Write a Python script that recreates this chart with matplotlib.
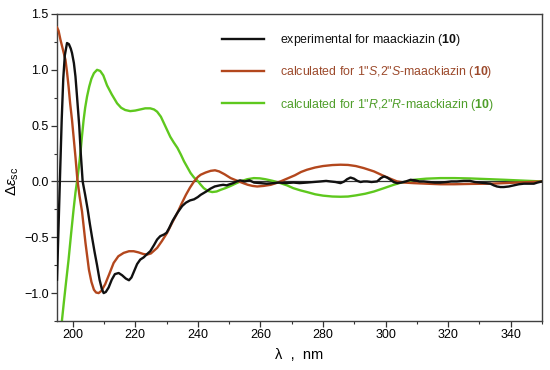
import matplotlib
matplotlib.use("Agg")
from matplotlib import pyplot as plt
from matplotlib.ticker import MultipleLocator

plt.rcParams['font.family'] = ['Liberation Sans', 'DejaVu Sans']
plt.rcParams['mathtext.fontset'] = 'custom'
plt.rcParams['mathtext.rm'] = 'Liberation Sans'
plt.rcParams['mathtext.it'] = 'Liberation Sans:italic'
plt.rcParams['mathtext.bf'] = 'Liberation Sans:bold'
plt.rcParams['axes.unicode_minus'] = True

# experimental CD spectrum
exp_wl = [195.0, 195.5, 196.0, 196.5, 197.0, 197.5, 198.2, 198.8, 199.4, 199.8,
          200.4, 200.9, 201.4, 202.1, 202.6, 203.2, 204.0, 204.8, 205.5, 206.2,
          207.0, 207.8, 208.6, 209.3, 209.9, 210.6, 211.5, 212.5, 213.5, 214.7,
          215.8, 217.0, 218.0, 218.8, 219.7, 220.6, 221.6, 222.7, 223.8, 224.8,
          226.0, 227.0, 228.0, 229.2, 230.0, 230.8, 232.0, 233.5, 235.0, 236.2,
          237.5, 238.8, 240.0, 240.9, 242.7, 244.0, 245.4, 247.0, 248.1, 249.2,
          250.2, 251.3, 252.4, 253.5, 255.0, 256.5, 258.0, 260.0, 262.0, 264.0,
          266.0, 268.0, 270.6, 272.5, 274.9, 277.0, 279.2, 281.0, 282.4, 284.0,
          285.6, 286.8, 287.7, 288.8, 289.9, 291.0, 292.0, 293.0, 294.1, 295.5,
          297.3, 298.5, 299.5, 300.5, 301.6, 302.6, 303.7, 305.0, 306.5, 308.0,
          309.5, 310.8, 312.2, 314.0, 315.8, 317.5, 319.5, 321.0, 322.8, 325.0,
          327.0, 328.5, 330.2, 332.0, 333.5, 334.6, 335.6, 336.7, 337.8, 339.4,
          341.0, 342.6, 344.2, 345.8, 347.4, 348.5, 350.0]
exp_de = [-0.88, -0.40, 0.08, 0.55, 0.92, 1.13, 1.24, 1.23, 1.19, 1.15,
          1.06, 0.94, 0.76, 0.50, 0.25, 0.0, -0.12, -0.25, -0.38, -0.50,
          -0.63, -0.75, -0.88, -0.96, -1.0, -0.99, -0.95, -0.88, -0.83, -0.82,
          -0.84, -0.87, -0.885, -0.86, -0.80, -0.74, -0.70, -0.68, -0.65, -0.625,
          -0.57, -0.52, -0.49, -0.475, -0.46, -0.42, -0.35, -0.28, -0.22, -0.19,
          -0.17, -0.16, -0.14, -0.12, -0.09, -0.065, -0.045, -0.035, -0.03, -0.035,
          -0.025, -0.015, 0.0, 0.01, 0.0, 0.01, -0.01, -0.015, -0.02, -0.015,
          -0.01, -0.015, -0.01, -0.015, -0.01, -0.005, 0.0, 0.005, 0.0, -0.005,
          -0.015, 0.0, 0.02, 0.035, 0.025, 0.005, -0.005, 0.0, 0.0, -0.005,
          0.0, 0.03, 0.045, 0.035, 0.015, -0.005, -0.015, -0.01, 0.0, 0.015,
          0.01, 0.0, 0.0, -0.005, -0.01, -0.01, -0.005, 0.0, 0.0, 0.005,
          0.005, -0.005, -0.01, -0.015, -0.02, -0.035, -0.045, -0.05, -0.05, -0.045,
          -0.035, -0.025, -0.02, -0.02, -0.02, -0.01, 0.0]

# calculated for 1"S,2"S
ss_wl = [195.0, 195.5, 196.1, 196.9, 197.7, 198.2, 198.7, 199.2, 199.8, 200.3,
         200.9, 201.5, 202.2, 203.0, 204.1, 205.2, 206.0, 206.8, 207.5, 208.3,
         209.2, 210.4, 211.7, 213.1, 214.6, 216.3, 218.0, 219.5, 221.0, 222.6,
         223.8, 225.0, 226.0, 227.0, 228.5, 230.2, 231.8, 233.5, 234.8, 236.2,
         237.5, 238.8, 240.0, 240.9, 242.5, 244.1, 245.5, 246.8, 248.5, 250.5,
         251.8, 253.1, 254.5, 256.0, 257.5, 259.0, 261.0, 263.3, 265.0, 266.4,
         268.5, 271.0, 273.0, 274.9, 277.5, 280.0, 283.0, 285.6, 288.0, 290.5,
         293.0, 296.3, 299.0, 301.5, 303.7, 306.0, 309.0, 313.0, 317.5, 322.0,
         327.0, 333.5, 338.0, 342.0, 346.0, 350.0]
ss_de = [1.38, 1.35, 1.27, 1.18, 1.09, 0.98, 0.85, 0.70, 0.55, 0.40,
         0.22, 0.02, -0.13, -0.27, -0.55, -0.79, -0.90, -0.97, -0.995, -1.0,
         -0.98, -0.92, -0.83, -0.73, -0.67, -0.64, -0.625, -0.625, -0.635, -0.65,
         -0.655, -0.645, -0.62, -0.595, -0.535, -0.46, -0.37, -0.28, -0.20, -0.12,
         -0.055, 0.0, 0.04, 0.06, 0.08, 0.095, 0.10, 0.09, 0.065, 0.03,
         0.015, 0.0, -0.015, -0.03, -0.04, -0.045, -0.04, -0.03, -0.015, 0.0,
         0.025, 0.055, 0.085, 0.105, 0.125, 0.138, 0.147, 0.15, 0.148, 0.138,
         0.12, 0.09, 0.055, 0.025, 0.0, -0.01, -0.015, -0.02, -0.025, -0.025,
         -0.022, -0.02, -0.015, -0.01, -0.005, 0.0]

# calculated for 1"R,2"R
rr_wl = [196.4, 196.6, 197.2, 197.9, 198.7, 199.5, 200.3, 200.9, 201.4, 202.0,
         202.5, 203.0, 203.5, 204.0, 204.6, 205.3, 206.0, 206.8, 207.8, 208.8,
         209.8, 211.0, 212.5, 214.2, 215.5, 216.8, 218.4, 220.0, 221.6, 223.2,
         224.8, 226.0, 227.0, 228.2, 229.2, 230.2, 231.2, 232.3, 233.5, 234.6,
         235.6, 236.7, 237.7, 238.8, 239.8, 240.8, 241.9, 243.2, 244.6, 246.0,
         247.3, 248.8, 250.5, 252.0, 253.6, 255.8, 257.9, 259.8, 261.6, 264.0,
         266.4, 268.5, 270.5, 272.8, 274.9, 277.5, 280.0, 283.0, 285.6, 288.0,
         290.5, 293.5, 296.3, 299.5, 302.6, 305.0, 307.0, 309.1, 313.0, 317.5,
         322.0, 327.0, 333.5, 338.0, 342.0, 346.0, 350.0]
rr_de = [-1.32, -1.24, -1.08, -0.90, -0.70, -0.47, -0.25, -0.10, 0.0, 0.13,
         0.26, 0.41, 0.55, 0.66, 0.76, 0.85, 0.92, 0.97, 1.0, 0.99,
         0.95, 0.86, 0.78, 0.70, 0.66, 0.64, 0.63, 0.635, 0.645, 0.655,
         0.655, 0.645, 0.625, 0.58, 0.52, 0.46, 0.40, 0.35, 0.30, 0.24,
         0.18, 0.125, 0.075, 0.035, 0.01, -0.025, -0.06, -0.085, -0.095, -0.09,
         -0.075, -0.06, -0.04, -0.02, 0.0, 0.02, 0.03, 0.028, 0.02, 0.005,
         -0.015, -0.035, -0.06, -0.08, -0.095, -0.115, -0.127, -0.135, -0.137, -0.135,
         -0.125, -0.11, -0.09, -0.06, -0.03, -0.01, 0.0, 0.015, 0.025, 0.03,
         0.03, 0.027, 0.02, 0.015, 0.01, 0.005, 0.0]

labels = ['experimental for maackiazin ($\\bf{10}$)',
          'calculated for 1"$\\it{S}$,2"$\\it{S}$-maackiazin ($\\bf{10}$)',
          'calculated for 1"$\\it{R}$,2"$\\it{R}$-maackiazin ($\\bf{10}$)']
colors = ['#111111', '#b3471d', '#5ec81e']
text_colors = ['#111111', '#9c4a2c', '#4f9e2a']

fig = plt.figure(figsize=(5.5, 3.7), dpi=100)
ax = fig.add_axes([57/550, 49/370, 485/550, 307/370])

ax.axhline(0, color='#333333', lw=0.9, zorder=1)
ax.plot(exp_wl, exp_de, color=colors[0], lw=1.7, label=labels[0], zorder=4)
ax.plot(ss_wl, ss_de, color=colors[1], lw=1.7, label=labels[1], zorder=3)
ax.plot(rr_wl, rr_de, color=colors[2], lw=1.7, label=labels[2], zorder=2)

ax.set_xlim(195, 350)
ax.set_ylim(-1.25, 1.5)
ax.xaxis.set_major_locator(MultipleLocator(20))
ax.xaxis.set_minor_locator(MultipleLocator(10))
ax.yaxis.set_major_locator(MultipleLocator(0.5))
ax.yaxis.set_minor_locator(MultipleLocator(0.25))
ax.set_yticks([-1.0, -0.5, 0.0, 0.5, 1.0, 1.5])
ax.set_yticklabels(['\u22121.0', '\u22120.5', '0.0', '0.5', '1.0', '1.5'])
ax.tick_params(which='major', direction='out', length=4, width=0.9,
               labelsize=9, color='#333333', pad=2)
ax.tick_params(which='minor', direction='out', length=2.5, width=0.8, color='#333333')
for s in ax.spines.values():
    s.set_color('#404040')
    s.set_linewidth(1.0)

ax.set_xlabel('\u03bb  ,  nm', fontsize=10.5, labelpad=5)
ax.set_ylabel('$\\Delta\\varepsilon_{\\mathrm{sc}}$', fontsize=11)
ax.yaxis.set_label_coords(-0.074, 0.455)

leg = ax.legend(loc='upper left', bbox_to_anchor=(0.34, 0.94), frameon=False,
                fontsize=8.9, handlelength=3.4, handletextpad=1.3,
                labelspacing=1.3, borderpad=0, borderaxespad=0)
for t, c in zip(leg.get_texts(), text_colors):
    t.set_color(c)

plt.savefig('out.png', dpi=100)
